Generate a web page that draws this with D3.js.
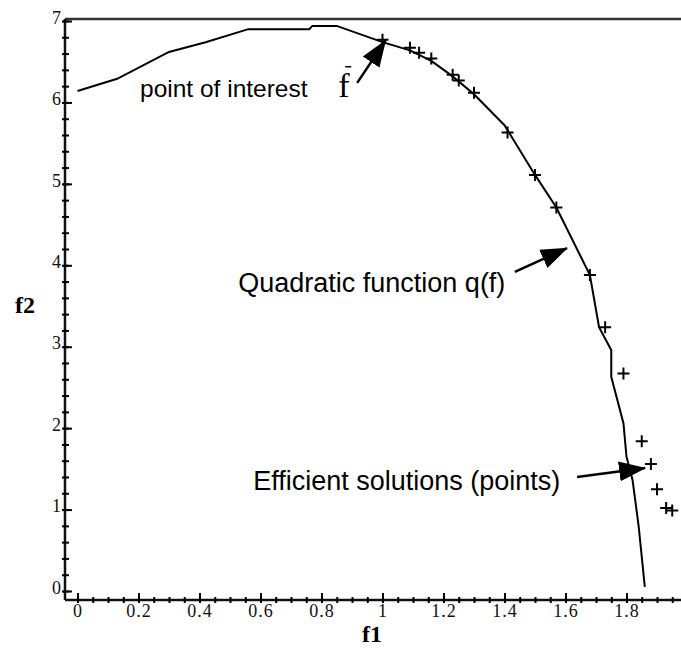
<!DOCTYPE html>
<meta charset="utf-8">
<style>
  body { margin: 0; background: #fff; }
  .tick-lbl { font-family: "Liberation Serif", serif; font-size: 18px; letter-spacing: 1px; fill: #111; }
  .axis-title { font-family: "Liberation Serif", serif; font-size: 24px; font-weight: bold; }
  .note { font-family: "Liberation Sans", Arial, sans-serif; fill: #000; }
</style>
<body>
<div id="chart"></div>
<script src="https://d3js.org/d3.v7.min.js"></script>
<script>
// quadratic function q(f)
var curveF1 = [0, 0.13, 0.30, 0.42, 0.56, 0.76, 0.77, 0.85, 1.00, 1.09, 1.16, 1.23, 1.30, 1.40, 1.50, 1.57, 1.68, 1.71, 1.75, 1.75, 1.79, 1.80, 1.82, 1.84, 1.86];
var curveF2 = [6.14, 6.29, 6.62, 6.74, 6.90, 6.90, 6.94, 6.94, 6.74, 6.64, 6.51, 6.32, 6.10, 5.72, 5.11, 4.71, 3.88, 3.24, 2.96, 2.63, 2.06, 1.65, 1.36, 0.79, 0.05];

// efficient solutions (points)
var pointsF1 = [1.00, 1.09, 1.12, 1.16, 1.23, 1.25, 1.30, 1.41, 1.50, 1.57, 1.68, 1.73, 1.79, 1.85, 1.88, 1.90, 1.93, 1.95];
var pointsF2 = [6.77, 6.67, 6.61, 6.54, 6.34, 6.27, 6.12, 5.63, 5.11, 4.71, 3.88, 3.24, 2.67, 1.84, 1.56, 1.25, 1.02, 0.99];

var xTicks = [0, 0.2, 0.4, 0.6, 0.8, 1, 1.2, 1.4, 1.6, 1.8];
var xTickLabels = ["0", "0.2", "0.4", "0.6", "0.8", "1", "1.2", "1.4", "1.6", "1.8"];
var yTicks = [0, 1, 2, 3, 4, 5, 6, 7];
var yTickLabels = ["0", "1", "2", "3", "4", "5", "6", "7"];

// annotations: text, text anchor (f1,f2), arrow tail and tip (f1,f2)
var noteText = ["point of interest", "Quadratic function q(f)", "Efficient solutions (points)"];
var noteSize = [24.5, 27, 27];
var noteAt = [[0.205, 6.07], [0.527, 3.67], [0.576, 1.24]];
var arrowFrom = [[0.917, 6.24], [1.434, 3.92], [1.638, 1.40]];
var arrowTo = [[1.01, 6.76], [1.605, 4.21], [1.861, 1.51]];

var width = 681, height = 652;
var axisLeftX = 65, axisBottomY = 600, topLineY = 19;

var x = d3.scaleLinear().domain([0, 2]).range([77.5, 687.5]);
var y = d3.scaleLinear().domain([0, 7]).range([591, 21]);

var svg = d3.select("#chart").append("svg")
    .attr("width", width)
    .attr("height", height);

svg.append("defs").append("marker")
    .attr("id", "head")
    .attr("markerUnits", "userSpaceOnUse")
    .attr("viewBox", "0 -11 27 22")
    .attr("refX", 26).attr("refY", 0)
    .attr("markerWidth", 27).attr("markerHeight", 22)
    .attr("orient", "auto")
  .append("path")
    .attr("d", "M0,-10L27,0L0,10Z")
    .attr("fill", "#000");

// frame lines
svg.append("line")
    .attr("x1", axisLeftX).attr("x2", width)
    .attr("y1", topLineY).attr("y2", topLineY)
    .attr("stroke", "#333").attr("stroke-width", 2.5);
svg.append("line")
    .attr("x1", axisLeftX).attr("x2", axisLeftX)
    .attr("y1", topLineY).attr("y2", axisBottomY)
    .attr("stroke", "#111").attr("stroke-width", 2.5);
svg.append("line")
    .attr("x1", axisLeftX).attr("x2", width)
    .attr("y1", axisBottomY).attr("y2", axisBottomY)
    .attr("stroke", "#111").attr("stroke-width", 2.5);

// x axis ticks
var xMinor = d3.range(0, 1.99, 0.05);
var gx = svg.append("g").attr("transform", "translate(0," + axisBottomY + ")");
gx.append("g").call(d3.axisBottom(x).tickValues(xMinor).tickFormat("").tickSizeOuter(0))
    .call(function (g) { g.select(".domain").remove(); })
    .selectAll("line").attr("y1", -3).attr("y2", 3).attr("stroke-width", 2);
gx.append("g").call(d3.axisBottom(x).tickValues(xTicks)
        .tickFormat(function (d, i) { return xTickLabels[i]; }).tickSizeOuter(0))
    .call(function (g) { g.select(".domain").remove(); })
    .call(function (g) {
      g.selectAll("line").attr("y1", -7).attr("y2", 3).attr("stroke-width", 2);
      g.selectAll("text").attr("class", "tick-lbl").attr("y", 4).attr("dy", "0.71em")
        .attr("font-size", null).attr("font-family", null);
    });

// y axis ticks
var yMinor = d3.range(0, 7.01, 0.2);
var gy = svg.append("g").attr("transform", "translate(" + axisLeftX + ",0)");
gy.append("g").call(d3.axisLeft(y).tickValues(yMinor).tickFormat("").tickSizeOuter(0))
    .call(function (g) { g.select(".domain").remove(); })
    .selectAll("line").attr("x1", -3).attr("x2", 4).attr("stroke-width", 2);
gy.append("g").call(d3.axisLeft(y).tickValues(yTicks)
        .tickFormat(function (d, i) { return yTickLabels[i]; }).tickSizeOuter(0))
    .call(function (g) { g.select(".domain").remove(); })
    .call(function (g) {
      g.selectAll("line").attr("x1", -2).attr("x2", 7).attr("stroke-width", 2);
      g.selectAll("text").attr("class", "tick-lbl").attr("x", -3).attr("dy", "0.12em")
        .attr("font-size", null).attr("font-family", null);
    });

// axis titles
svg.append("text").attr("class", "axis-title")
    .attr("x", 372).attr("y", 642).attr("text-anchor", "middle").text("f1");
svg.append("text").attr("class", "axis-title")
    .attr("x", 25).attr("y", 313).attr("text-anchor", "middle").text("f2");

// quadratic curve
var line = d3.line()
    .x(function (d, i) { return x(curveF1[i]); })
    .y(function (d, i) { return y(curveF2[i]); });
svg.append("path")
    .attr("d", line(curveF1))
    .attr("fill", "none")
    .attr("stroke", "#000")
    .attr("stroke-width", 2);

// efficient points as crosses
svg.selectAll(".pt")
    .data(pointsF1)
  .enter().append("path")
    .attr("class", "pt")
    .attr("transform", function (d, i) { return "translate(" + x(d) + "," + y(pointsF2[i]) + ")"; })
    .attr("d", "M-6,0H6M0,-6V6")
    .attr("stroke", "#000")
    .attr("stroke-width", 2);

// annotations
svg.selectAll(".note")
    .data(noteText)
  .enter().append("text")
    .attr("class", "note")
    .style("font-size", function (d, i) { return noteSize[i] + "px"; })
    .attr("x", function (d, i) { return x(noteAt[i][0]); })
    .attr("y", function (d, i) { return y(noteAt[i][1]); })
    .text(function (d) { return d; });

svg.selectAll(".arrow")
    .data(arrowFrom)
  .enter().append("line")
    .attr("class", "arrow")
    .attr("x1", function (d) { return x(d[0]); })
    .attr("y1", function (d) { return y(d[1]); })
    .attr("x2", function (d, i) { return x(arrowTo[i][0]); })
    .attr("y2", function (d, i) { return y(arrowTo[i][1]); })
    .attr("stroke", "#000")
    .attr("stroke-width", 2.5)
    .attr("marker-end", "url(#head)");

// f-bar symbol next to "point of interest"
var fx = x(0.855), fy = y(6.07);
svg.append("text")
    .attr("x", fx).attr("y", fy)
    .attr("font-family", "Liberation Serif, serif")
    .attr("font-size", 34)
    .text("f");
svg.append("line")
    .attr("x1", fx + 7).attr("x2", fx + 13)
    .attr("y1", fy - 30).attr("y2", fy - 30)
    .attr("stroke", "#000").attr("stroke-width", 1.5);
</script>
</body>
